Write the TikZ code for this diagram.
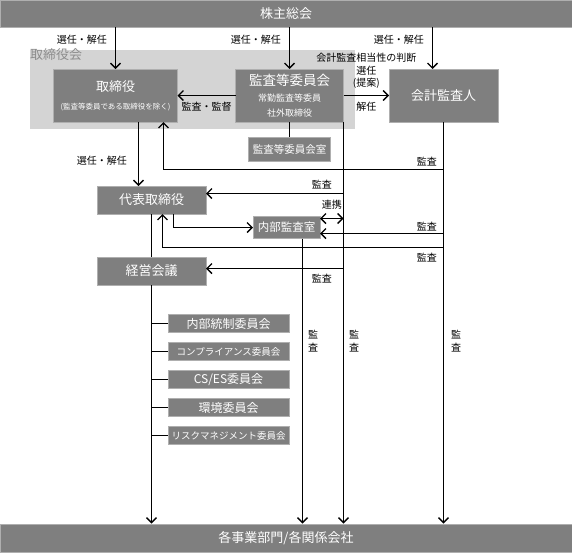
\documentclass[tikz,border=0pt]{standalone}
\usepackage{fontspec}
\setmainfont{Noto Sans CJK JP}
\usetikzlibrary{arrows.meta, positioning}
\definecolor{boxgray}{RGB}{127,127,127}
\definecolor{boxedge}{RGB}{175,175,175}
\definecolor{areagray}{RGB}{212,212,212}
\definecolor{areatext}{RGB}{140,140,140}
\tikzset{
  bar/.style       = {fill=boxgray, draw=boxedge, line width=0.6pt, text=white,
                      minimum width=572pt, minimum height=27pt, inner sep=0pt,
                      font=\fontsize{13}{15}\selectfont},
  unit/.style      = {fill=boxgray, draw=boxedge, line width=0.6pt, text=white,
                      align=center, inner sep=0pt, outer sep=0pt,
                      font=\fontsize{13}{15}\selectfont},
  committee/.style = {unit, minimum width=121pt, minimum height=18pt,
                      font=\fontsize{12}{14}\selectfont},
  boardarea/.style = {fill=areagray, minimum width=325pt, minimum height=79pt,
                      inner sep=0pt},
  lbl/.style       = {font=\fontsize{10}{12}\selectfont, inner sep=1pt},
  vlbl/.style      = {font=\fontsize{10}{12.5}\selectfont, align=center, inner sep=0pt},
  link/.style      = {line width=1.4pt},
  arr/.style       = {link, -{Straight Barb[length=5pt, width=10pt]}},
  dblarr/.style    = {link, {Straight Barb[length=5pt, width=10pt]}-{Straight Barb[length=5pt, width=10pt]}},
}
\newcommand{\subfont}{\fontsize{9}{11}\selectfont}

\begin{document}
\begin{tikzpicture}[x=1pt, y=-1pt]
\useasboundingbox (0,0) rectangle (572,552);

% ===== top and bottom bars =====
\node[bar] (soukai) at (286,13.5) {株主総会};
\node[bar, minimum height=28pt] (kakusha) at (286,538) {各事業部門/各関係会社};

% ===== board of directors =====
\node[boardarea] (bod) at (192.5,89.5) {};
\node[font=\fontsize{13}{15}\selectfont, text=areatext, inner sep=0pt,
      anchor=north west] (bodlbl) at ([yshift=1pt]bod.north west) {取締役会};
\node[unit, minimum width=124pt, minimum height=53pt] (torishimari) at (115.5,95.5)
  {取締役\\[3pt]\fontsize{7.5}{9}\selectfont (監査等委員である取締役を除く)};
\node[unit, minimum width=108pt, minimum height=53pt] (kansa) at (289.5,95.5)
  {\fontsize{13.5}{16}\selectfont 監査等委員会\\[1pt]\subfont 常勤監査等委員\\\subfont 社外取締役};
\node[unit, minimum width=109pt, minimum height=53pt] (kaikei) at (443.5,95.5) {会計監査人};
\node[unit, minimum width=82pt, minimum height=24pt,
      font=\fontsize{10.5}{12}\selectfont] (iinkaishitsu) at (289.5,149) {監査等委員会室};

% ===== executive side =====
\node[unit, minimum width=109pt, minimum height=28pt] (daihyo) at (151.5,200) {代表取締役};
\node[unit, minimum width=67pt, minimum height=22pt,
      font=\fontsize{11.5}{13}\selectfont] (naibu) at (286.5,227.5) {内部監査室};
\node[unit, minimum width=109pt, minimum height=28pt] (keiei) at (151.5,271) {経営会議};

% ===== committees =====
\node[committee] (naibutousei) at (228.5,323.5) {内部統制委員会};
\node[committee, font=\fontsize{9.5}{11}\selectfont] (compliance) at (228.5,351.5) {コンプライアンス委員会};
\node[committee] (cses) at (228.5,379.5) {CS/ES委員会};
\node[committee] (kankyo) at (228.5,407.5) {環境委員会};
\node[committee, font=\fontsize{9.5}{11}\selectfont] (risk) at (228.5,435.5) {リスクマネジメント委員会};

% rows of the audit lines
\coordinate (row1) at (0,169.5);
\coordinate (row2) at (0,193.5);
\coordinate (row3) at (0,218.5);
\coordinate (row4) at (0,233.5);
\coordinate (row5) at (0,247.5);
\coordinate (row6) at (0,268.5);

% ===== appointment from the shareholders =====
\draw[arr] (torishimari |- soukai.south) -- node[lbl, pos=0.3, left=7pt] {選任・解任} (torishimari.north);
\draw[arr] (kansa |- soukai.south) -- node[lbl, pos=0.3, left=7pt] {選任・解任} (kansa.north);
\draw[arr] ([xshift=-11pt]kaikei.north |- soukai.south) -- node[lbl, pos=0.3, left=7pt] {選任・解任} ([xshift=-11pt]kaikei.north);

% ===== audit committee =====
\draw[arr] (kansa.west) -- node[lbl, below=5pt] {監査・監督} (torishimari.east);
\draw[arr] (kansa.east) -- node[lbl, above=5pt, align=center] (teian) {選任\\(提案)}
  node[lbl, below=5pt] {解任} (kaikei.west);
\node[lbl, above=1pt of teian] (soutousei) {会計監査相当性の判断};
\draw[link] (kansa.south) -- (iinkaishitsu.north);
\draw[arr] ([xshift=23pt]torishimari.south) -- node[lbl, pos=0.6, left=10pt] {選任・解任} ([xshift=23pt]torishimari.south |- daihyo.north);

% ===== audit lines =====
\draw[arr] (kaikei |- row1) node[lbl, above left=2pt and 5pt] {監査} -| ([xshift=48pt]torishimari.south);
\draw[arr] (kansa.south east |- row2) node[lbl, above left=3pt and 10pt] {監査} -- (daihyo.east |- row2);
\draw[arr] ([xshift=22pt]daihyo.south) |- (naibu.west);
\draw[dblarr] (naibu.east |- row3) -- node[lbl, above=7pt] {連携} (kansa.south east |- row3);
\draw[arr] (kaikei |- row4) node[lbl, above left=1pt and 5pt] {監査} -- (naibu.east |- row4);
\draw[arr] (kaikei |- row5) node[lbl, below left=4pt and 5pt] {監査} -| ([xshift=11pt]daihyo.south);
\draw[link] (daihyo.south) -- (keiei.north);
\draw[arr] (kansa.south east |- row6) node[lbl, below left=4pt and 10pt] {監査} -- (keiei.east |- row6);

% ===== down to the business units =====
\draw[arr] (keiei.south) -- (keiei.south |- kakusha.north);
\draw[arr] ([xshift=16pt]naibu.south) -- node[vlbl, pos=0.36, right=5pt] {監\\査} ([xshift=16pt]naibu.south |- kakusha.north);
\draw[arr] (kansa.south east) -- node[vlbl, pos=0.545, right=5pt] {監\\査} (kansa.south east |- kakusha.north);
\draw[arr] (kaikei.south) -- node[vlbl, pos=0.545, right=7pt] {監\\査} (kaikei.south |- kakusha.north);
\foreach \c in {naibutousei, compliance, cses, kankyo, risk}
  \draw[link] (keiei.south |- \c.west) -- (\c.west);

\end{tikzpicture}
\end{document}
